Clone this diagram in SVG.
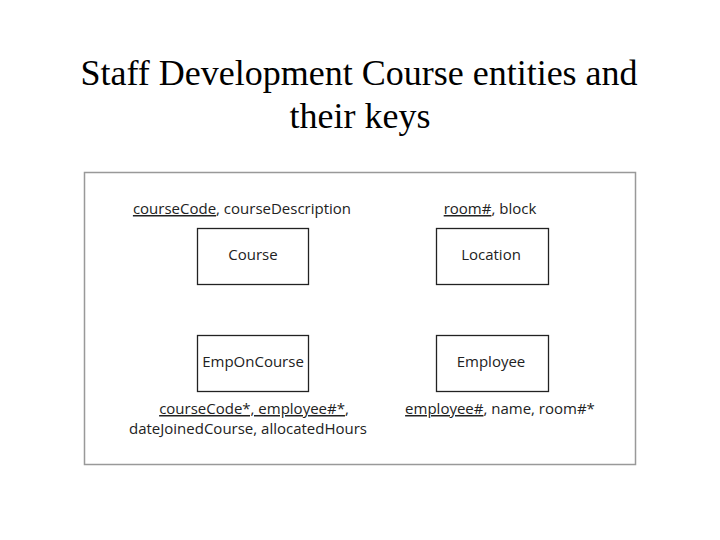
<svg xmlns="http://www.w3.org/2000/svg" width="720" height="540" viewBox="0 0 720 540">
<style>
.title{font-family:"Liberation Serif","Times New Roman",serif;font-size:36px;fill:#000;text-anchor:middle}
.t{font-family:"Open Sans","Noto Sans",sans-serif;font-size:15px;fill:#222;text-anchor:middle}
.u{text-decoration:underline}
.box{fill:#fff;stroke:#222;stroke-width:1.3}
</style>
<rect width="720" height="540" fill="#fff"/>
<text class="title" x="359" y="85">Staff Development Course entities and</text>
<text class="title" x="360" y="128">their keys</text>
<rect x="84.5" y="172.5" width="551" height="292" fill="#fff" stroke="#999" stroke-width="1.5"/>
<g id="course">
<text class="t" x="242" y="214"><tspan class="u">courseCode</tspan>, courseDescription</text>
<rect class="box" x="197.5" y="228.5" width="111" height="56"/>
<text class="t" x="253" y="260">Course</text>
</g>
<g id="location">
<text class="t" x="490" y="214"><tspan class="u">room#</tspan>, block</text>
<rect class="box" x="436.5" y="228.5" width="112" height="56"/>
<text class="t" x="491" y="260">Location</text>
</g>
<g id="emponcourse">
<rect class="box" x="197.5" y="335.5" width="111" height="56"/>
<text class="t" x="253" y="367">EmpOnCourse</text>
<text class="t" x="254" y="414"><tspan class="u">courseCode*, employee#*</tspan>,</text>
<text class="t" x="248" y="434">dateJoinedCourse, allocatedHours</text>
</g>
<g id="employee">
<rect class="box" x="436.5" y="335.5" width="112" height="56"/>
<text class="t" x="491" y="367">Employee</text>
<text class="t" x="500" y="414"><tspan class="u">employee#</tspan>, name, room#*</text>
</g>
<g id="connectors"></g>
</svg>
